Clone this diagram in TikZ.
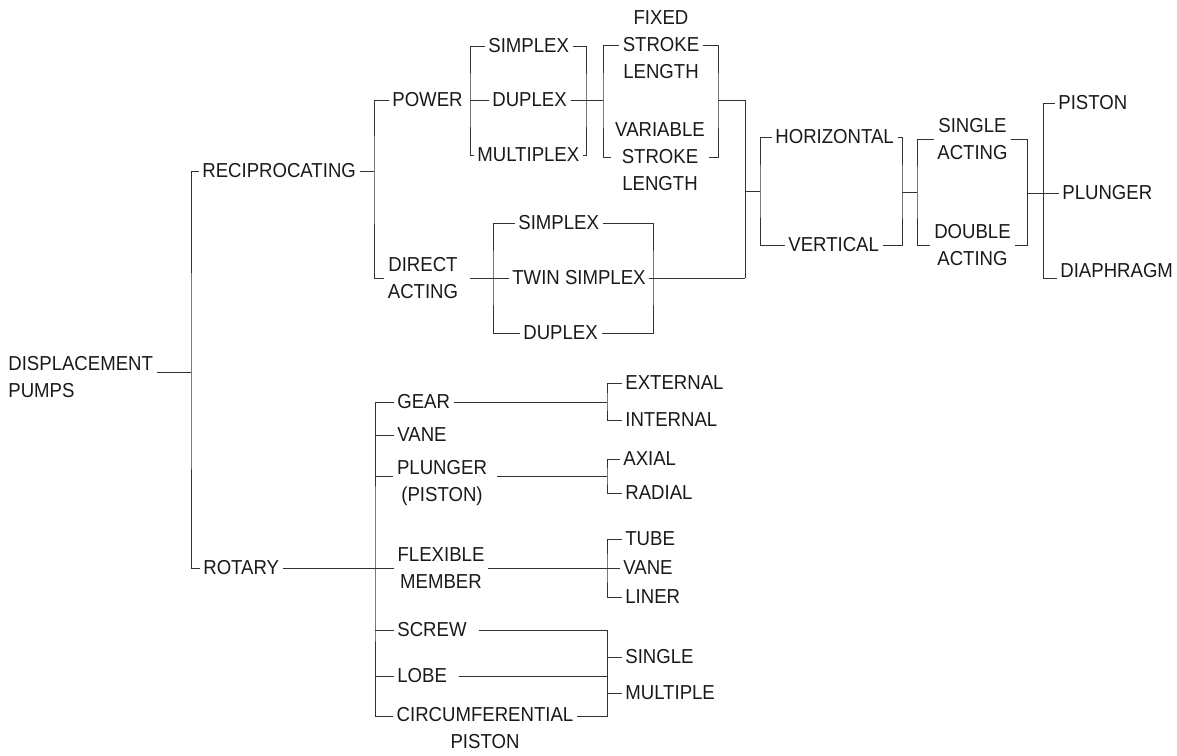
\documentclass[tikz,border=0pt]{standalone}
\usepackage{fontspec}
\setmainfont{Liberation Sans}[FakeStretch=0.92]
\usepackage{tikz}
\usetikzlibrary{calc}

\begin{document}
\begin{tikzpicture}[x=0.02cm, y=-0.02cm,
    lbl/.style={inner xsep=2pt, inner ysep=1pt, align=center, text=black!90,
        font=\fontsize{11.5}{15.4}\selectfont},
    lblw/.style={lbl, anchor=west},
    link/.style={line width=0.55pt, black!80}]
        \useasboundingbox (0,0) rectangle (1177,755);

        % --- BAR POSITIONS ---
        \coordinate (xroot) at (191,0);
        \coordinate (xrec) at (374,0);
        \coordinate (xpow) at (470,0);
        \coordinate (xpowr) at (586,0);
        \coordinate (xstr) at (603,0);
        \coordinate (xstrr) at (718,0);
        \coordinate (xjoin) at (745,0);
        \coordinate (xdir) at (493,0);
        \coordinate (xdirr) at (653,0);
        \coordinate (xhv) at (760,0);
        \coordinate (xhvr) at (902,0);
        \coordinate (xact) at (917,0);
        \coordinate (xactr) at (1027,0);
        \coordinate (xtyp) at (1043,0);
        \coordinate (xrot) at (375,0);
        \coordinate (xsub) at (607,0);

        % --- ROOT ---
        \node[lblw, align=left] (disp) at (4.5,377) {DISPLACEMENT\\PUMPS};
        \node[lblw] (recip) at (198.5,171) {RECIPROCATING};
        \node[lblw] (rotary) at (199.5,568) {ROTARY};

        % --- RECIPROCATING ---
        \node[lblw] (power) at (388.5,100) {POWER};
        \node[lbl] (direct) at (423,278) {DIRECT\\ACTING};
        \node[lblw] (psimplex) at (484.5,46) {SIMPLEX};
        \node[lblw] (pduplex) at (488.5,100) {DUPLEX};
        \node[lblw] (pmulti) at (473.5,155) {MULTIPLEX};
        \node[lbl] (fixed) at (661,45) {FIXED\\STROKE\\LENGTH};
        \node[lbl] (variable) at (660,157) {VARIABLE\\STROKE\\LENGTH};
        \node[lblw] (dsimplex) at (514.5,223) {SIMPLEX};
        \node[lblw] (twin) at (508.5,278) {TWIN SIMPLEX};
        \node[lblw] (dduplex) at (519.5,333) {DUPLEX};
        \node[lblw] (horiz) at (771.5,137) {HORIZONTAL};
        \node[lblw] (vert) at (784.5,245) {VERTICAL};
        \node[lbl] (single) at (972.5,139) {SINGLE\\ACTING};
        \node[lbl] (double) at (972.5,245) {DOUBLE\\ACTING};
        \node[lblw] (piston) at (1054.5,103) {PISTON};
        \node[lblw] (plunger) at (1058.5,193) {PLUNGER};
        \node[lblw] (diaphragm) at (1056.5,271) {DIAPHRAGM};

        % --- ROTARY ---
        \node[lblw] (gear) at (393.5,402) {GEAR};
        \node[lblw] (vane) at (393.5,435) {VANE};
        \node[lbl] (plg) at (442,483) {PLUNGER\\(PISTON)};
        \node[lbl] (flex) at (441,568) {FLEXIBLE\\MEMBER};
        \node[lblw] (screw) at (393.5,630) {SCREW};
        \node[lblw] (lobe) at (393.5,676) {LOBE};
        \node[lbl] (circ) at (485,728) {CIRCUMFERENTIAL\\PISTON};
        \node[lblw] (external) at (621.5,383) {EXTERNAL};
        \node[lblw] (internal) at (621.5,420) {INTERNAL};
        \node[lblw] (axial) at (619.5,459) {AXIAL};
        \node[lblw] (radial) at (621.5,493) {RADIAL};
        \node[lblw] (tube) at (621.5,539) {TUBE};
        \node[lblw] (fvane) at (619.5,568) {VANE};
        \node[lblw] (liner) at (621.5,597) {LINER};
        \node[lblw] (single2) at (621.5,657) {SINGLE};
        \node[lblw] (multiple) at (621.5,693) {MULTIPLE};

        % --- ROOT LINKS ---
        \coordinate (dispout) at ($(disp.east)+(0,-5)$);
        \draw[link] (dispout) -- (dispout -| xroot);
        \draw[link] (recip.west) -| (dispout -| xroot) |- (rotary.west);

        % --- RECIPROCATING LINKS ---
        \draw[link] (recip.east) -- (recip.east -| xrec);
        \draw[link] (power.west) -| (recip.east -| xrec) |- (direct.west);
        \draw[link] (psimplex.west) -| (power.east -| xpow) |- (pmulti.west);
        \draw[link] (power.east -| xpow) -- (pduplex.west);
        \draw[link] (psimplex.east) -| (pduplex.east -| xpowr) |- (pmulti.east);
        \draw[link] (pduplex.east) -- (pduplex.east -| xstr);
        \draw[link] (fixed.west) -| (pduplex.east -| xstr) |- (variable.west);
        \draw[link] (fixed.east) -| (pduplex.east -| xstrr) |- (variable.east);
        \draw[link] (pduplex.east -| xstrr) -| (twin.east -| xjoin);

        % direct acting
        \draw[link] ($(direct.east)+(8,0)$) -- (twin.west);
        \draw[link] (dsimplex.west) -| (twin.west -| xdir) |- (dduplex.west);
        \draw[link] (dsimplex.east) -| (twin.east -| xdirr) |- (dduplex.east);
        \draw[link] (twin.east) -- (twin.east -| xjoin);

        % horizontal / vertical
        \coordinate (hvin) at ($(horiz.west -| xhv)!0.5!(vert.west -| xhv)$);
        \draw[link] (hvin -| xjoin) -- (hvin);
        \draw[link] (horiz.west) -| (hvin) |- (vert.west);
        \coordinate (actin) at ($(single.west -| xact)!0.5!(double.west -| xact)$);
        \draw[link] (horiz.east) -| (actin -| xhvr) |- (vert.east);
        \draw[link] (actin -| xhvr) -- (actin);
        \draw[link] (single.west) -| (actin) |- (double.west);
        \draw[link] (single.east) -| (plunger.west -| xactr) |- (double.east);
        \draw[link] (plunger.west -| xactr) -- (plunger.west);
        \draw[link] (piston.west) -| (plunger.west -| xtyp) |- ($(diaphragm.west)+(0,7)$);

        % --- ROTARY LINKS ---
        \coordinate (plgw) at ($(plg.west)+(0,-7)$);
        \coordinate (plge) at ($(plg.east)+(6,-7)$);
        \coordinate (circw) at ($(circ.west)+(0,-12)$);
        \coordinate (circe) at ($(circ.east)+(0,-12)$);
        \draw[link] (rotary.east) -- (flex.west);
        \draw[link] (gear.west) -| (flex.west -| xrot) |- (circw);
        \foreach \n in {vane.west, plgw, screw.west, lobe.west}
            \draw[link] (\n -| xrot) -- (\n);

        \draw[link] (gear.east) -- (gear.east -| xsub);
        \draw[link] (external.west) -| (gear.east -| xsub) |- (internal.west);
        \draw[link] (plge) -- (plge -| xsub);
        \draw[link] (axial.west) -| (plge -| xsub) |- (radial.west);
        \draw[link] (flex.east) -- (fvane.west);
        \draw[link] (tube.west) -| (flex.east -| xsub) |- (liner.west);
        \draw[link] ($(screw.east)+(9,0)$) -| (circe -| xsub) -- (circe);
        \draw[link] ($(lobe.east)+(8,0)$) -- (lobe.east -| xsub);
        \draw[link] (single2.west -| xsub) -- (single2.west);
        \draw[link] (multiple.west -| xsub) -- (multiple.west);

    \end{tikzpicture}
\end{document}
